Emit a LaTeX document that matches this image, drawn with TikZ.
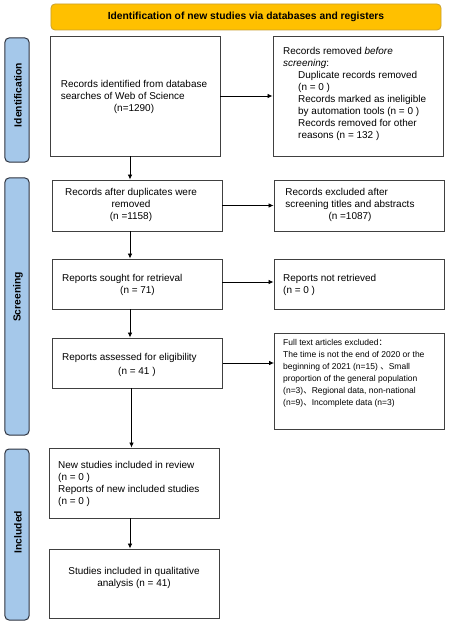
\documentclass[tikz,border=0pt]{standalone}
\usepackage{fontspec}
\setmainfont{Liberation Sans}
\newfontfamily\cjk{Noto Sans CJK SC}
\usetikzlibrary{arrows.meta}
\definecolor{hdrfill}{HTML}{FFC000}
\definecolor{hdrdraw}{HTML}{C8A030}
\definecolor{barfill}{HTML}{A5C8EA}
\definecolor{bardraw}{HTML}{2E3440}
\definecolor{boxdraw}{HTML}{404040}
\tikzset{
  box/.style={draw=boxdraw, line width=0.9bp, fill=white, inner sep=0pt, minimum width=170bp,
    font=\fontsize{10.4bp}{12.8bp}\selectfont},
  smallbox/.style={box, font=\fontsize{8.5bp}{12bp}\selectfont},
  bar/.style={draw=bardraw, line width=1bp, fill=barfill, rounded corners=4bp, minimum width=24bp, inner sep=0pt},
  barlabel/.style={rotate=90, font=\fontsize{10.3bp}{12bp}\selectfont\bfseries, inner sep=0pt},
  hdr/.style={draw=hdrdraw, line width=0.8bp, fill=hdrfill, rounded corners=4bp, minimum width=390bp, minimum height=26bp,
    font=\fontsize{10.3bp}{12bp}\selectfont\bfseries, inner sep=0pt},
  arr/.style={draw=black, line width=0.8bp, -{Latex[length=5bp,width=4.5bp]}},
  txt/.style={inner sep=0pt, align=left}
}
\begin{document}
\begin{tikzpicture}[x=1bp,y=-1bp]
\useasboundingbox (0,0) rectangle (450,625);

\node[hdr] (hdr) at (246,17) {Identification of new studies via databases and registers};

\node[bar, minimum height=124bp] (bar1) at (17,100) {};
\node[barlabel] (l1) at (18,95) {Identification};
\node[bar, minimum height=257bp] (bar2) at (17,306.5) {};
\node[barlabel] (l2) at (18,297) {Screening};
\node[bar, minimum height=171bp] (bar3) at (17,534.5) {};
\node[barlabel] (l3) at (18,532) {Included};

\node[box, minimum height=120bp] (b1) at (135,96) {};
\node[txt] (t1) at (134,97) {\begin{tabular}{@{}l@{}}Records identified from database\\searches of Web of Science\\\multicolumn{1}{@{}c@{}}{(n=1290)}\end{tabular}};

\node[box, minimum height=120bp] (b2) at (358,96) {};
\node[txt, anchor=north west] (t2) at (283,46) {\begin{tabular}{@{}l@{}}Records removed \textit{before}\\\textit{screening}:\\\hspace{15bp}Duplicate records removed\\\hspace{15bp}(n = 0 )\\\hspace{15bp}Records marked as ineligible\\\hspace{15bp}by automation tools (n = 0 )\\\hspace{15bp}Records removed for other\\\hspace{15bp}reasons (n = 132 )\end{tabular}};

\node[box, minimum height=51bp] (b3) at (137,205.5) {};
\node[txt] (t3) at (131,205.5) {\begin{tabular}{@{}l@{}}Records after duplicates were\\\multicolumn{1}{@{}c@{}}{removed}\\\multicolumn{1}{@{}c@{}}{(n =1158)}\end{tabular}};

\node[box, minimum height=51bp] (b4) at (359,205.5) {};
\node[txt] (t4) at (350,205.5) {\begin{tabular}{@{}l@{}}Records excluded after\\screening titles and abstracts\\\multicolumn{1}{@{}c@{}}{(n =1087)}\end{tabular}};

\node[box, minimum height=50bp] (b5) at (137,284) {};
\node[txt, anchor=west] (t5) at (62,285.5) {\begin{tabular}{@{}l@{}}Reports sought for retrieval\\\hspace{58bp}(n = 71)\end{tabular}};

\node[box, minimum height=50bp] (b6) at (359,284) {};
\node[txt, anchor=west] (t6) at (283,285) {Reports not retrieved\\(n = 0 )};

\node[box, minimum height=50bp] (b7) at (137.5,363) {};
\node[txt, anchor=west] (t7) at (62,365) {\begin{tabular}{@{}l@{}}Reports assessed for eligibility\\[2bp]\hspace{56bp}(n = 41 )\end{tabular}};

\node[smallbox, minimum height=96bp] (b8) at (359.5,381) {};
\node[txt, anchor=north west, font=\fontsize{8.5bp}{12.1bp}\selectfont] (t8) at (283,339) {Full text articles excluded{\cjk ：}\\The time is not the end of 2020 or the\\beginning of 2021 (n=15) {\cjk 、}Small\\proportion of the general population\\(n=3){\cjk 、}Regional data, non-national\\(n=9){\cjk 、}Incomplete data (n=3)};

\node[box, minimum height=70bp] (b9) at (134.5,483) {};
\node[txt, anchor=west] (t9) at (58,484) {New studies included in review\\(n = 0 )\\Reports of new included studies\\(n = 0 )};

\node[box, minimum height=69bp] (b10) at (134,583.5) {};
\node[txt, align=center] (t10) at (134,577.5) {Studies included in qualitative\\analysis (n = 41)};

\draw[arr] (b1.east) -- (b2.west);
\draw[arr] ([xshift=-5bp]b1.south) -- ([xshift=-5bp]b1.south |- b3.north);
\draw[arr] (b3.east) -- (b4.west);
\draw[arr] ([xshift=-7bp]b3.south) -- ([xshift=-7bp]b3.south |- b5.north);
\draw[arr] ([yshift=2bp]b5.east) -- ([yshift=2bp]b5.east -| b6.west);
\draw[arr] ([xshift=-7bp]b5.south) -- ([xshift=-7bp]b5.south |- b7.north);
\draw[arr] (b7.east) -- (b7.east -| b8.west);
\draw[arr] ([xshift=-6bp]b7.south) -- ([xshift=-6bp]b7.south |- b9.north);
\draw[arr] ([xshift=-4.5bp]b9.south) -- ([xshift=-4.5bp]b9.south |- b10.north);
\end{tikzpicture}
\end{document}
